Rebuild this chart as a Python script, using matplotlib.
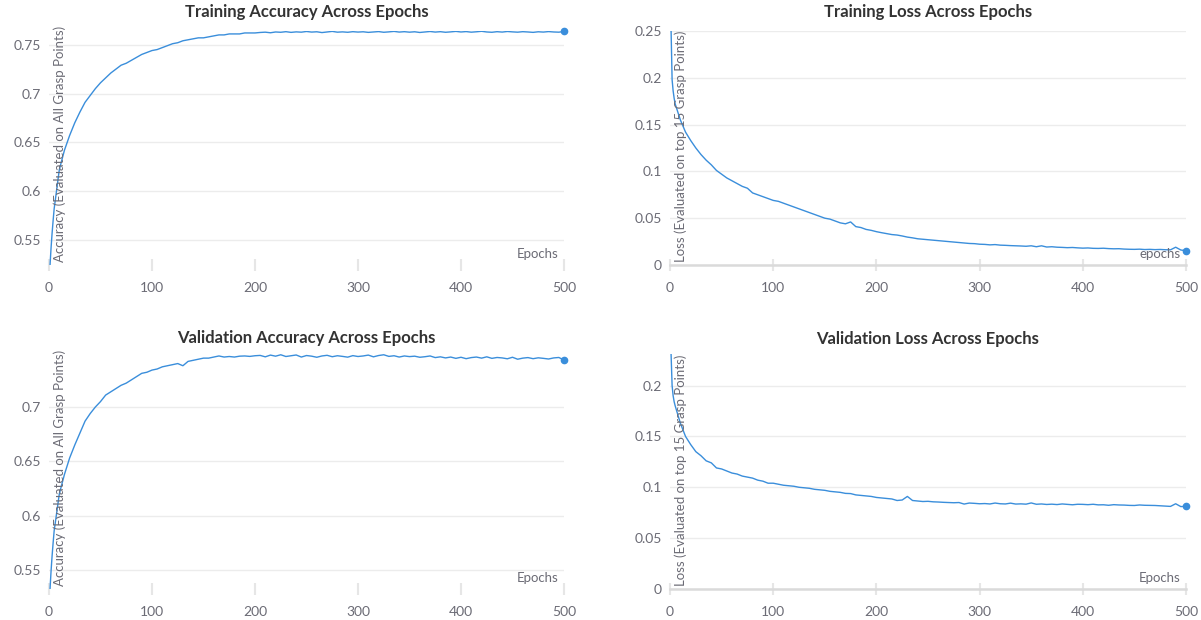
import matplotlib
matplotlib.use("Agg")
import matplotlib.pyplot as plt
from matplotlib.ticker import FormatStrFormatter

epochs = [1, 2, 3, 4] + list(range(5, 501, 5))

train_acc = [
    0.5245, 0.542, 0.557, 0.570,
    0.582, 0.622, 0.642, 0.657, 0.670, 0.681, 0.691, 0.698, 0.705, 0.711,
    0.716, 0.721, 0.725, 0.729, 0.731, 0.734, 0.737, 0.740, 0.742, 0.744,
    0.745, 0.747, 0.749, 0.751, 0.752, 0.754, 0.755, 0.756, 0.757, 0.757,
    0.758, 0.759, 0.760, 0.760, 0.761, 0.761, 0.761, 0.762, 0.762, 0.762,
    0.7625, 0.7628, 0.7622, 0.7630, 0.7627, 0.7633, 0.7626, 0.7631, 0.7628, 0.7635,
    0.7629, 0.7632, 0.7624, 0.7630, 0.7636, 0.7628, 0.7631, 0.7627, 0.7633, 0.7629,
    0.7632, 0.7626, 0.7630, 0.7634, 0.7627, 0.7631, 0.7636, 0.7629, 0.7633, 0.7628,
    0.7632, 0.7625, 0.7630, 0.7635, 0.7629, 0.7633, 0.7627, 0.7631, 0.7636, 0.7630,
    0.7634, 0.7628, 0.7632, 0.7637, 0.7630, 0.7627, 0.7633, 0.7629, 0.7635, 0.7631,
    0.7628, 0.7633, 0.7630, 0.7626, 0.7632, 0.7629, 0.7634, 0.7630, 0.7628, 0.7635,
]

train_loss = [
    0.2515, 0.198, 0.186, 0.178,
    0.172, 0.155, 0.142, 0.133, 0.125, 0.118, 0.112, 0.107, 0.101, 0.097,
    0.093, 0.090, 0.087, 0.084, 0.082, 0.077, 0.075, 0.073, 0.071, 0.069,
    0.068, 0.066, 0.064, 0.062, 0.060, 0.058, 0.056, 0.054, 0.052, 0.050,
    0.049, 0.047, 0.045, 0.044, 0.046, 0.041, 0.040, 0.038, 0.037, 0.0356,
    0.0345, 0.0335, 0.0325, 0.0320, 0.0310, 0.0298, 0.0290, 0.0280, 0.0275, 0.0270,
    0.0265, 0.0260, 0.0255, 0.0250, 0.0245, 0.0240, 0.0235, 0.0230, 0.0228, 0.0222,
    0.0220, 0.0215, 0.0218, 0.0212, 0.0210, 0.0207, 0.0205, 0.0203, 0.0200, 0.0205,
    0.0195, 0.0205, 0.0192, 0.0195, 0.0190, 0.0188, 0.0185, 0.0187, 0.0183, 0.0180,
    0.0182, 0.0178, 0.0177, 0.0179, 0.0175, 0.0173, 0.0174, 0.0170, 0.0168, 0.0167,
    0.0169, 0.0165, 0.0167, 0.0164, 0.0166, 0.0163, 0.0162, 0.0190, 0.0160, 0.0153,
]

val_acc = [
    0.5325, 0.549, 0.563, 0.575,
    0.586, 0.620, 0.638, 0.653, 0.665, 0.676, 0.687, 0.694, 0.700, 0.705,
    0.711, 0.714, 0.717, 0.720, 0.722, 0.725, 0.728, 0.731, 0.732, 0.734,
    0.735, 0.737, 0.738, 0.739, 0.740, 0.738, 0.742, 0.743, 0.744, 0.745,
    0.745, 0.746, 0.747, 0.746, 0.7465, 0.746, 0.7468, 0.747, 0.7466, 0.7472,
    0.7475, 0.7462, 0.7478, 0.7468, 0.7481, 0.7465, 0.7472, 0.7479, 0.7460, 0.7474,
    0.7468, 0.7458, 0.7470, 0.7476, 0.7463, 0.7472, 0.7466, 0.7459, 0.7473, 0.7465,
    0.7470, 0.7478, 0.7462, 0.7474, 0.7481, 0.7466, 0.7472, 0.7460, 0.7470, 0.7464,
    0.7468, 0.7458, 0.7463, 0.7470, 0.7455, 0.7462, 0.7452, 0.7460, 0.7448, 0.7458,
    0.7445, 0.7455, 0.7460, 0.7450, 0.7462, 0.7448, 0.7456, 0.7452, 0.7444, 0.7458,
    0.7440, 0.7450, 0.7455, 0.7445, 0.7453, 0.7448, 0.7442, 0.7452, 0.7456, 0.7433,
]

val_loss = [
    0.231, 0.200, 0.190, 0.184,
    0.180, 0.163, 0.150, 0.142, 0.135, 0.131, 0.126, 0.124, 0.119, 0.118,
    0.116, 0.114, 0.113, 0.111, 0.110, 0.109, 0.107, 0.106, 0.104, 0.104,
    0.103, 0.102, 0.1015, 0.101, 0.100, 0.0995, 0.099, 0.098, 0.0975, 0.097,
    0.096, 0.0955, 0.095, 0.094, 0.0938, 0.0925, 0.092, 0.0915, 0.091, 0.090,
    0.0895, 0.0890, 0.0885, 0.0870, 0.0875, 0.0910, 0.0870, 0.0865, 0.0860, 0.0862,
    0.0857, 0.0855, 0.0852, 0.0850, 0.0848, 0.0850, 0.0835, 0.0845, 0.0842, 0.0838,
    0.0840, 0.0836, 0.0845, 0.0838, 0.0836, 0.0844, 0.0835, 0.0837, 0.0834, 0.0846,
    0.0833, 0.0836, 0.0831, 0.0834, 0.0830, 0.0836, 0.0832, 0.0828, 0.0833, 0.0832,
    0.0829, 0.0833, 0.0827, 0.0828, 0.0823, 0.0829, 0.0826, 0.0825, 0.0822, 0.0821,
    0.0826, 0.0823, 0.0822, 0.0821, 0.0818, 0.0815, 0.0812, 0.0838, 0.0810, 0.0813,
]

x_ticks = [0, 100, 200, 300, 400, 500]

LINE = "#3a8edb"
GRID = "#ececec"
TEXT = "#6b6b75"

plt.rcParams["font.family"] = ["Lato", "DejaVu Sans"]


def draw_panel(ax, values, title, ylabel, xlabel, ylim, yticks, zero_line=False, title_pad=7):
    ax.plot(epochs, values, color=LINE, lw=1.0)
    ax.plot(epochs[-1], values[-1], "o", color=LINE, ms=4.5, clip_on=False)
    ax.set_xlim(0, 500)
    ax.set_ylim(*ylim)
    ax.set_xticks(x_ticks)
    ax.set_yticks(yticks)
    ax.yaxis.set_major_formatter(FormatStrFormatter("%g"))
    ax.grid(axis="y", color=GRID, lw=1)
    ax.set_axisbelow(True)
    for side in ["top", "right", "left", "bottom"]:
        ax.spines[side].set_visible(False)
    if zero_line:
        ax.spines["bottom"].set_visible(True)
        ax.spines["bottom"].set_color("#dadada")
        ax.spines["bottom"].set_linewidth(1.8)
    ax.tick_params(axis="y", length=0, pad=6, labelsize=10, labelcolor=TEXT)
    ax.tick_params(axis="x", direction="inout", length=8, width=1.5, color="#e6e6e6",
                   pad=8, labelsize=10, labelcolor=TEXT)
    ax.set_title(title, fontsize=12, fontweight="bold", color="#333333", pad=title_pad)
    ax.annotate(ylabel, xy=(0, 0), xycoords="axes fraction", xytext=(8, 2),
                textcoords="offset points", rotation=90, ha="center", va="bottom",
                fontsize=9.5, color=TEXT)
    ax.annotate(xlabel, xy=(1, 0), xycoords="axes fraction", xytext=(-4, 8),
                textcoords="offset points", ha="right", va="center",
                fontsize=9.5, color=TEXT)


fig = plt.figure(figsize=(12.01, 6.2), dpi=100)
ax_ta = fig.add_axes([0.0408, 0.5726, 0.4288, 0.3774])
ax_tl = fig.add_axes([0.5579, 0.5726, 0.4296, 0.3774])
ax_va = fig.add_axes([0.0408, 0.0500, 0.4288, 0.3806])
ax_vl = fig.add_axes([0.5579, 0.0500, 0.4296, 0.3790])

acc_label = "Accuracy (Evaluated on All Grasp Points)"
loss_label = "Loss (Evaluated on top 15 Grasp Points)"

draw_panel(ax_ta, train_acc, "Training Accuracy Across Epochs", acc_label, "Epochs",
           (0.5245, 0.7640), [0.55, 0.6, 0.65, 0.7, 0.75], title_pad=10)
draw_panel(ax_tl, train_loss, "Training Loss Across Epochs", loss_label, "epochs",
           (0, 0.25), [0, 0.05, 0.1, 0.15, 0.2, 0.25], zero_line=True, title_pad=10)
draw_panel(ax_va, val_acc, "Validation Accuracy Across Epochs", acc_label, "Epochs",
           (0.5325, 0.7497), [0.55, 0.6, 0.65, 0.7])
draw_panel(ax_vl, val_loss, "Validation Loss Across Epochs", loss_label, "Epochs",
           (0, 0.231), [0, 0.05, 0.1, 0.15, 0.2], zero_line=True)

fig.savefig("out.png", dpi=100)
